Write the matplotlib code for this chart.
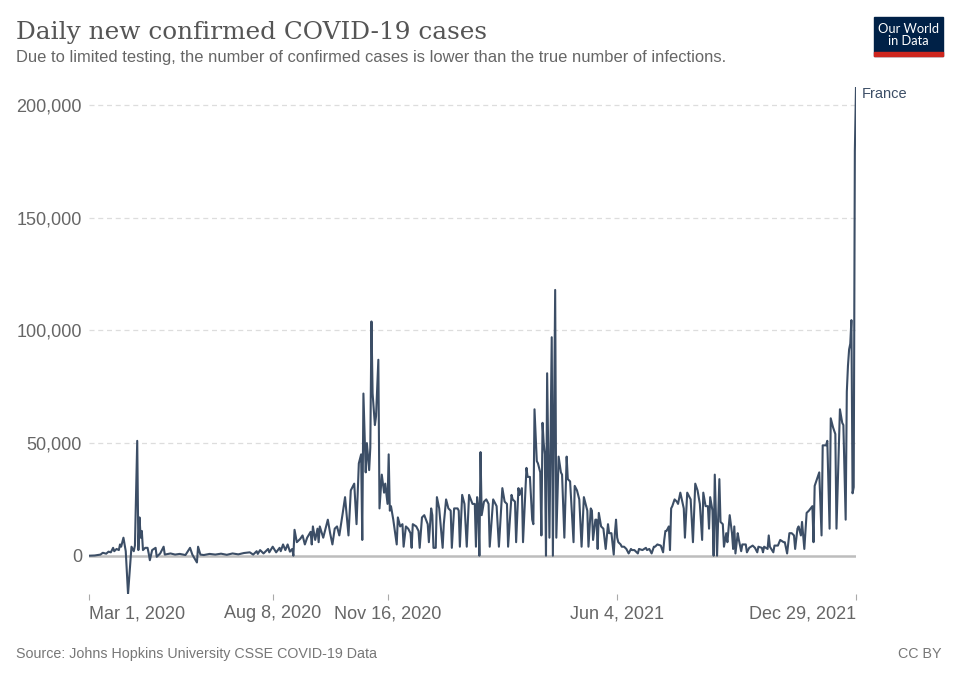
import matplotlib
matplotlib.use("Agg")
import matplotlib.pyplot as plt
from matplotlib.patches import Rectangle
import numpy as np
import pandas as pd

# days since 2020-03-01
days = [
    0, 5, 10, 12, 15, 17, 19, 21, 22, 24, 26, 27, 28, 30, 32, 34, 36, 37, 39, 40,
    42, 43, 44, 45, 46, 47, 49, 51, 52, 53, 55, 58, 59, 62, 65, 66, 71, 75, 79, 84,
    88, 90, 94, 95, 97, 100, 105, 110, 115, 120, 125, 130, 135, 140, 143, 146, 147, 149, 152, 156,
    157, 160, 163, 166, 167, 169, 171, 173, 175, 177, 178, 179, 181, 184, 186, 188, 190, 193, 194, 195,
    197, 199, 200, 201, 204, 208, 210, 212, 214, 216, 218, 221, 223, 226, 228, 231, 233, 235, 237, 238,
    239, 241, 242, 244, 245, 246, 247, 249, 250, 252, 253, 255, 257, 258, 260, 261, 262, 263, 265, 268,
    269, 271, 273, 274, 276, 278, 280, 281, 282, 285, 287, 288, 290, 292, 295, 296, 298, 299, 300, 302,
    303, 305, 308, 309, 311, 313, 315, 316, 318, 321, 322, 323, 325, 327, 329, 331, 334, 336, 337, 338,
    339, 340, 341, 342, 344, 346, 348, 349, 352, 354, 355, 357, 360, 362, 364, 365, 368, 369, 371, 372,
    374, 375, 377, 378, 381, 382, 384, 386, 387, 388, 390, 391, 393, 394, 395, 396, 397, 398, 399, 401,
    403, 404, 406, 407, 409, 411, 412, 414, 416, 417, 419, 422, 423, 425, 427, 429, 431, 432, 434, 435,
    437, 438, 439, 441, 442, 443, 444, 446, 448, 450, 452, 453, 455, 457, 458, 459, 460, 461, 463, 464,
    466, 468, 470, 472, 473, 475, 478, 479, 482, 485, 486, 488, 490, 492, 493, 495, 498, 500, 501, 502,
    503, 505, 506, 507, 508, 510, 512, 513, 515, 518, 519, 521, 523, 524, 526, 528, 530, 532, 534, 535,
    537, 539, 540, 541, 543, 544, 545, 547, 549, 550, 552, 553, 555, 556, 558, 560, 561, 562, 563, 565,
    566, 568, 569, 572, 573, 575, 578, 580, 582, 583, 586, 587, 588, 591, 592, 593, 596, 597, 600, 602,
    605, 606, 608, 610, 612, 614, 615, 617, 618, 620, 621, 623, 625, 627, 630, 631, 632, 634, 636, 638,
    639, 642, 643, 645, 646, 648, 650, 651, 654, 656, 657, 659, 660, 661, 662, 663, 664, 665, 666, 667,
    668,
]

# daily new confirmed cases, thousands
cases_k = [
    0.0, 0.1, 0.5, 1.3, 0.9, 1.8, 1.5, 3.5, 2.0, 3.0, 2.5, 5.0, 4.0, 8.0, 2.0, -17.0, -3.0, 4.0, 2.0, 4.5,
    51.0, 2.5, 17.0, 8.0, 11.0, 2.5, 3.5, 3.5, 1.0, -2.0, 2.5, 3.5, -0.5, 1.0, 4.0, 0.5, 1.0, 0.5, 0.8, 0.3,
    3.5, 0.5, -3.0, 4.0, 0.5, 0.3, 0.8, 0.5, 0.9, 0.4, 1.0, 0.6, 1.2, 1.5, 0.5, 2.0, 0.8, 2.5, 1.0, 3.0,
    1.5, 4.0, 1.5, 3.5, 2.0, 5.0, 2.5, 5.0, 1.8, 3.0, 0.0, 11.5, 6.0, 7.5, 9.0, 5.0, 8.0, 10.6, 5.0, 13.0,
    7.0, 12.0, 6.0, 13.0, 8.0, 16.0, 10.0, 5.0, 12.0, 13.0, 9.0, 19.0, 26.0, 9.0, 29.0, 32.0, 14.0, 41.0, 45.0, 7.0,
    72.0, 37.0, 50.0, 38.0, 48.0, 104.0, 72.0, 58.0, 62.0, 87.0, 21.0, 36.0, 28.0, 32.0, 23.0, 45.0, 20.0, 22.0, 16.0, 5.0,
    17.0, 13.0, 14.0, 4.0, 13.0, 12.0, 10.0, 3.5, 14.0, 13.0, 11.0, 3.5, 17.0, 18.0, 14.0, 6.0, 21.0, 18.0, 3.5, 3.5,
    26.0, 21.0, 3.5, 14.0, 25.0, 21.0, 20.0, 3.5, 21.0, 21.0, 20.0, 4.0, 27.0, 23.0, 4.0, 27.0, 23.0, 23.0, 4.0, 26.0,
    22.0, 0.0, 46.0, 18.0, 24.0, 25.0, 23.0, 4.0, 25.0, 23.0, 22.0, 4.0, 30.0, 24.0, 23.0, 4.0, 27.0, 25.0, 24.0, 6.0,
    30.0, 27.0, 30.0, 6.0, 39.0, 35.0, 35.0, 16.0, 14.0, 65.0, 42.0, 41.0, 37.0, 9.0, 59.0, 50.0, 45.0, 0.0, 81.0, 8.0,
    97.0, 0.0, 118.0, 8.0, 44.0, 37.0, 36.0, 8.0, 44.0, 34.0, 33.0, 6.0, 31.0, 29.0, 25.0, 4.0, 26.0, 24.0, 20.0, 4.0,
    21.0, 20.0, 7.0, 16.0, 16.0, 3.0, 19.0, 13.0, 12.0, 3.0, 14.0, 10.0, 10.0, 0.5, 10.0, 16.0, 8.0, 6.0, 5.0, 4.0,
    4.0, 3.0, 1.0, 3.0, 2.5, 2.5, 1.0, 3.0, 2.5, 3.5, 2.5, 3.0, 1.0, 4.0, 4.0, 5.0, 4.5, 1.5, 7.0, 11.0,
    11.0, 13.0, 2.5, 21.0, 22.0, 25.0, 24.0, 23.0, 28.0, 21.0, 8.0, 28.0, 26.0, 25.0, 6.0, 32.0, 29.0, 23.0, 7.0, 28.0,
    22.0, 22.0, 12.0, 26.0, 20.0, 0.0, 36.0, 0.0, 34.0, 15.0, 14.0, 4.0, 10.0, 6.0, 18.0, 10.0, 3.0, 13.0, 1.0, 10.0,
    7.0, 2.0, 5.0, 5.0, 1.5, 3.5, 4.5, 3.5, 1.5, 4.0, 3.5, 1.5, 4.0, 3.0, 9.0, 4.0, 1.5, 4.5, 4.5, 7.0,
    6.0, 6.0, 1.0, 10.0, 10.0, 9.0, 3.0, 12.0, 13.0, 9.0, 15.0, 3.0, 19.0, 20.0, 22.0, 6.0, 31.0, 34.0, 37.0, 9.0,
    49.0, 49.0, 51.0, 12.0, 61.0, 57.0, 54.0, 12.0, 65.0, 59.0, 58.0, 16.0, 72.8, 84.3, 91.6, 94.1, 104.6, 27.7, 30.4, 179.8,
    208.1,
]

country = "France"
y_ticks = [0, 50000, 100000, 150000, 200000]
x_tick_dates = ["2020-03-01", "2020-08-08", "2020-11-16", "2021-06-04", "2021-12-29"]
x_tick_labels = ["Mar 1, 2020", "Aug 8, 2020", "Nov 16, 2020", "Jun 4, 2021", "Dec 29, 2021"]

dates = pd.Timestamp("2020-03-01") + pd.to_timedelta(days, unit="D")
cases = np.array(cases_k) * 1000

line_color = "#3c4e66"
grey = "#666666"
sans = "Liberation Sans"

fig = plt.figure(figsize=(9.6, 6.78), dpi=100)
ax = fig.add_axes([89 / 960, 84 / 678, 767 / 960, 507 / 678])

ax.plot(dates, cases, color=line_color, lw=1.5, zorder=3)
ax.axhline(0, color="#bdbdbd", lw=1.8, zorder=2)

ax.set_xlim(dates[0], dates[-1])
ax.set_ylim(cases.min(), cases.max())

ax.set_yticks(y_ticks)
ax.set_yticklabels([f"{v:,}" for v in y_ticks], fontfamily=sans, fontsize=13, color=grey)
for v in y_ticks[1:]:
    ax.axhline(v, color="#dddddd", lw=0.9, ls=(0, (4, 3)), zorder=1)
ax.tick_params(axis="y", length=0, pad=5)

ax.set_xticks(pd.to_datetime(x_tick_dates))
ax.set_xticklabels(x_tick_labels, fontfamily=sans, fontsize=13, color=grey)
ax.tick_params(axis="x", length=4, width=0.8, color="#aaaaaa", pad=4)
xl = ax.get_xticklabels()
xl[0].set_horizontalalignment("left")
xl[-1].set_horizontalalignment("right")

for s in ax.spines.values():
    s.set_visible(False)

ax.annotate(country, xy=(dates[-1], cases[-1]), xytext=(4, -5), textcoords="offset points",
            fontfamily=sans, fontsize=10.5, color=line_color, va="center", ha="left",
            annotation_clip=False)

fig.text(16 / 960, 1 - 39 / 678, "Daily new confirmed COVID-19 cases", fontfamily="DejaVu Serif",
         fontsize=17.8, color="#555555", va="baseline")
fig.text(16 / 960, 1 - 62 / 678,
         "Due to limited testing, the number of confirmed cases is lower than the true number of infections.",
         fontfamily=sans, fontsize=11.9, color=grey, va="baseline")
fig.text(16 / 960, 1 - 658 / 678, "Source: Johns Hopkins University CSSE COVID-19 Data",
         fontfamily=sans, fontsize=10.3, color="#777777", va="baseline")
fig.text(942 / 960, 1 - 658 / 678, "CC BY", fontfamily=sans, fontsize=10.3, color="#777777",
         va="baseline", ha="right")

# logo
fig.patches.append(Rectangle((874 / 960, 1 - 56 / 678), 69 / 960, 39 / 678,
                             transform=fig.transFigure, color="#002147", zorder=5))
fig.patches.append(Rectangle((874 / 960, 1 - 56 / 678), 69 / 960, 4 / 678,
                             transform=fig.transFigure, color="#ce261e", zorder=6))
fig.text(908.5 / 960, 1 - 35 / 678, "Our World\nin Data", fontfamily="Lato", fontsize=9.3,
         color="white", ha="center", va="center", linespacing=1.0, zorder=7)

fig.savefig("out.png", dpi=100)
